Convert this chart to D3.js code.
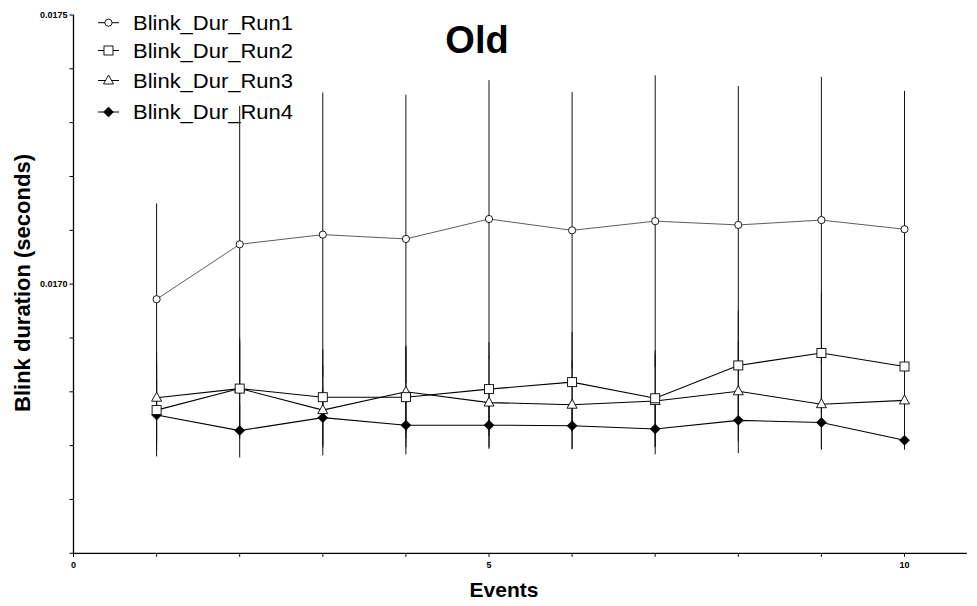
<!DOCTYPE html>
<html>
<head>
<meta charset="utf-8">
<script src="https://cdn.jsdelivr.net/npm/d3@7"></script>
<style>
  html, body { margin: 0; padding: 0; background: #fff; }
  svg { display: block; font-family: "Liberation Sans", Arial, sans-serif; }
</style>
</head>
<body>
<svg id="chart" width="977" height="606"></svg>
<script>
// Events 1..10, mean blink duration per run with error (half-length of bar)
const events = [1, 2, 3, 4, 5, 6, 7, 8, 9, 10];
const seriesNames = ["Blink_Dur_Run1", "Blink_Dur_Run2", "Blink_Dur_Run3", "Blink_Dur_Run4"];
const run1 = [0.016972, 0.017074, 0.017092, 0.017084, 0.017121, 0.017100, 0.017117, 0.017110, 0.017119, 0.017102];
const run2 = [0.016766, 0.016806, 0.016790, 0.016790, 0.016805, 0.016818, 0.016788, 0.016849, 0.016872, 0.016847];
const run3 = [0.016789, 0.016806, 0.016766, 0.016800, 0.016780, 0.016776, 0.016783, 0.016801, 0.016777, 0.016784];
const run4 = [0.016757, 0.016728, 0.016752, 0.016738, 0.016738, 0.016737, 0.016731, 0.016747, 0.016743, 0.016710];
const err1 = [0.000178, 0.000257, 0.000264, 0.000268, 0.000258, 0.000257, 0.000271, 0.000258, 0.000266, 0.000257];
const err2 = [0.000086, 0.000093, 0.000089, 0.000093, 0.000087, 0.000093, 0.000089, 0.000102, 0.000112, 0.000117];
const err3 = [0.000084, 0.000086, 0.000084, 0.000086, 0.000086, 0.000082, 0.000086, 0.000093, 0.000084, 0.000091];
const err4 = [0.000065, 0.000050, 0.000056, 0.000054, 0.000041, 0.000043, 0.000047, 0.000061, 0.000050, 0.000017];
const xTickLabels = ["0", "5", "10"];
const yTickLabels = ["0.0170", "0.0175"];
const titleText = "Old";
const xTitle = "Events";
const yTitle = "Blink duration (seconds)";

const series = [
  { name: seriesNames[0], values: run1, errors: err1, symbol: "circle" },
  { name: seriesNames[1], values: run2, errors: err2, symbol: "square" },
  { name: seriesNames[2], values: run3, errors: err3, symbol: "triangle" },
  { name: seriesNames[3], values: run4, errors: err4, symbol: "diamond" }
];

const svg = d3.select("#chart");
const x = d3.scaleLinear().domain([0, 10.75]).range([73.5, 73.5 + 83.1 * 10.75]);
const y = d3.scaleLinear().domain([0.0165, 0.0175]).range([553.3, 15]);

// axes
const xAxis = svg.append("g").attr("transform", `translate(0,${y(0.0165)})`);
xAxis.append("line").attr("x1", x(0)).attr("x2", x(10.75)).attr("stroke", "#000").attr("stroke-width", 1.3);
xAxis.selectAll("line.tick").data(d3.range(0, 11)).join("line")
  .attr("class", "tick")
  .attr("x1", d => x(d)).attr("x2", d => x(d))
  .attr("y1", 0).attr("y2", 3.5)
  .attr("stroke", "#000").attr("stroke-width", 1);
xAxis.selectAll("text").data(xTickLabels).join("text")
  .attr("x", d => x(+d)).attr("y", 15)
  .attr("text-anchor", "middle")
  .attr("font-size", 9).attr("font-weight", "bold")
  .text(d => d);

const yAxis = svg.append("g").attr("transform", `translate(${x(0)},0)`);
yAxis.append("line").attr("y1", y(0.0165)).attr("y2", y(0.0175)).attr("stroke", "#000").attr("stroke-width", 1.3);
yAxis.selectAll("line.tick").data(d3.range(0, 11).map(i => 0.0165 + i * 0.0001)).join("line")
  .attr("class", "tick")
  .attr("x1", -4).attr("x2", 0)
  .attr("y1", d => y(d)).attr("y2", d => y(d))
  .attr("stroke", "#000").attr("stroke-width", 1);
yAxis.selectAll("text").data(yTickLabels).join("text")
  .attr("x", -6).attr("y", d => y(+d) + 3)
  .attr("text-anchor", "end")
  .attr("font-size", 9).attr("font-weight", "bold")
  .text(d => d);

// titles
svg.append("text").attr("x", 477).attr("y", 53)
  .attr("text-anchor", "middle").attr("font-size", 38).attr("font-weight", "bold")
  .text(titleText);
svg.append("text").attr("x", 504).attr("y", 597)
  .attr("text-anchor", "middle").attr("font-size", 21).attr("font-weight", "bold")
  .text(xTitle);
svg.append("text").attr("transform", "translate(30,283) rotate(-90)")
  .attr("text-anchor", "middle").attr("font-size", 22).attr("font-weight", "bold")
  .text(yTitle);

// marker shapes
function drawMarker(g, symbol, cx, cy) {
  if (symbol === "circle") {
    g.append("circle").attr("cx", cx).attr("cy", cy).attr("r", 3.6)
      .attr("fill", "#fff").attr("stroke", "#000").attr("stroke-width", 0.9);
  } else if (symbol === "square") {
    g.append("rect").attr("x", cx - 4.5).attr("y", cy - 4.5).attr("width", 9).attr("height", 9)
      .attr("fill", "#fff").attr("stroke", "#000").attr("stroke-width", 0.9);
  } else if (symbol === "triangle") {
    g.append("path").attr("d", `M${cx},${cy - 5.5}L${cx + 5},${cy + 3.5}L${cx - 5},${cy + 3.5}Z`)
      .attr("fill", "#fff").attr("stroke", "#000").attr("stroke-width", 0.9);
  } else {
    g.append("path").attr("d", `M${cx},${cy - 5}L${cx + 5},${cy}L${cx},${cy + 5}L${cx - 5},${cy}Z`)
      .attr("fill", "#000").attr("stroke", "#000").attr("stroke-width", 0.6);
  }
}

// error bars
const plot = svg.append("g");
series.forEach(s => {
  plot.append("g").selectAll("line").data(events).join("line")
    .attr("x1", (d) => x(d)).attr("x2", (d) => x(d))
    .attr("y1", (d, i) => y(s.values[i] + s.errors[i]))
    .attr("y2", (d, i) => y(s.values[i] - s.errors[i]))
    .attr("stroke", "#111").attr("stroke-width", 1);
});

// connecting lines
const line = d3.line().x(d => x(d[0])).y(d => y(d[1]));
series.forEach((s, k) => {
  plot.append("path")
    .datum(events.map((e, i) => [e, s.values[i]]))
    .attr("d", line)
    .attr("fill", "none")
    .attr("stroke", k === 0 ? "#333" : "#000")
    .attr("stroke-width", k === 0 ? 0.8 : 1.1);
});

// markers, last series underneath
series.slice().reverse().forEach(s => {
  const g = plot.append("g");
  events.forEach((e, i) => drawMarker(g, s.symbol, x(e), y(s.values[i])));
});

// legend
const legendRows = [22.7, 50.5, 80.5, 112];
const legend = svg.append("g");
series.forEach((s, i) => {
  const cy = legendRows[i];
  legend.append("line").attr("x1", 98).attr("x2", 119).attr("y1", cy).attr("y2", cy)
    .attr("stroke", "#000").attr("stroke-width", 1);
  drawMarker(legend, s.symbol, 108.5, cy);
  legend.append("text").attr("x", 133).attr("y", cy + 7.2)
    .attr("font-size", 20)
    .attr("textLength", 160).attr("lengthAdjust", "spacingAndGlyphs")
    .text(s.name);
});
</script>
</body>
</html>
